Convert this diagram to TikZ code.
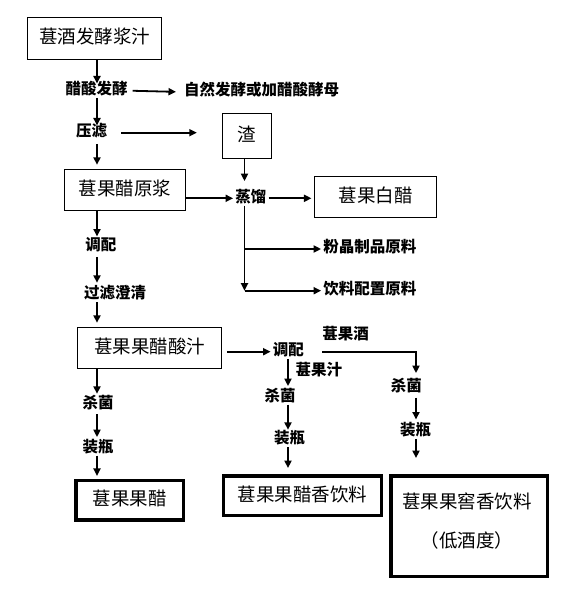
\documentclass[tikz,border=0pt]{standalone}
\usepackage{fontspec}
\setmainfont{Noto Sans CJK SC}
\usetikzlibrary{arrows.meta}
\begin{document}
\begin{tikzpicture}[x=1pt,y=-1pt,
  arr/.style={line width=1.8pt,-{Triangle[length=7.5pt,width=7pt]}},
  lab/.style={font=\fontsize{15.5}{18}\selectfont\bfseries, inner sep=2pt, text height=0.88em, text depth=0.12em},
  box/.style={draw, line width=1pt, font=\fontsize{18.5}{21}\selectfont, inner sep=0pt, text height=1.2em, text depth=0.12em},
  tbox/.style={box, line width=3.5pt}]
\useasboundingbox (0,0) rectangle (587,596);
\coordinate (colL) at (97,0);
\coordinate (colZ) at (244.5,0);
\coordinate (colM) at (288,0);
\coordinate (colR) at (416,0);

\node[box, minimum width=134.4pt, minimum height=42pt] (b1) at (94.5,38.3) {葚酒发酵浆汁};
\node[lab] (cs) at (96.5,90.7) {醋酸发酵};
\node[lab] (zr) at (261.7,92) {自然发酵或加醋酸酵母};
\node[lab] (yl) at (91.5,132.7) {压滤};
\node[box, minimum width=49.4pt, minimum height=45pt] (zha) at (247,135.8) {渣};
\node[box, minimum width=121.4pt, minimum height=41.4pt] (yj) at (125,190) {葚果醋原浆};
\node[lab] (zl) at (250.8,198.3) {蒸馏};
\node[box, minimum width=121.7pt, minimum height=41pt] (bc) at (375.8,196.8) {葚果白醋};
\node[lab] (fj) at (369.8,249) {粉晶制品原料};
\node[lab] (yp) at (369.8,290.7) {饮料配置原料};
\node[lab] (tp1) at (100.8,246.7) {调配};
\node[lab] (gl) at (115,295) {过滤澄清};
\node[box, minimum width=144.4pt, minimum height=41pt] (sz) at (149.5,347.8) {葚果果醋酸汁};
\node[lab] (sj1) at (98,405) {杀菌};
\node[lab] (zp1) at (98,448.3) {装瓶};
\node[tbox, minimum width=107.5pt, minimum height=39.2pt] (gc) at (129.5,500.3) {葚果果醋};
\node[lab] (tp2) at (288.3,351.7) {调配};
\node[lab] (gz) at (318.8,371.7) {葚果汁};
\node[lab] (gj) at (345.5,336) {葚果酒};
\node[lab] (sj2) at (280,397.3) {杀菌};
\node[lab] (zp2) at (289.7,440) {装瓶};
\node[tbox, minimum width=158pt, minimum height=39.8pt] (cx) at (302.5,495.7) {葚果果醋香饮料};
\node[lab] (sj3) at (406.3,387.3) {杀菌};
\node[lab] (zp3) at (415.5,431.7) {装瓶};
\node[tbox, minimum width=156.5pt, minimum height=100.8pt] (jx) at (469,526.2) {};
\node[font=\fontsize{18.5}{38.3}\selectfont, align=center, inner sep=0pt] (jxt) at (467,520.9) {葚果果窖香饮料\\（低酒度）};

% left column
\draw[arr] (b1.south -| colL) -- (cs.north -| colL);
\draw[arr] (cs.south -| colL) -- (yl.north -| colL);
\draw[arr, shorten <=4pt, shorten >=4pt] (yl.south -| colL) -- (yj.north -| colL);
\draw[arr, shorten <=3pt, shorten >=6pt] (cs.east) -- (zr.west);
\draw[arr, shorten <=12pt, shorten >=25pt] (yl.east) -- (zha.west |- yl.east);
\draw[arr, shorten >=10pt] (zha.south -| colZ) -- (zl.north -| colZ);
\draw[arr] (yj.east |- zl.west) -- (zl.west);
\draw[arr, shorten >=3pt] (zl.east) -- (bc.west |- zl.east);
\draw[arr] (zl.south -| colZ) -- (yp.west -| colZ);
\draw[arr] (yp.west -| colZ) -- (yp.west);
\draw[arr] (fj.west -| colZ) -- (fj.west);
\draw[arr, shorten >=3pt] (yj.south -| colL) -- (tp1.north -| colL);
\draw[arr, shorten <=3pt, shorten >=5pt] (tp1.south -| colL) -- (gl.north -| colL);
\draw[arr, shorten >=4pt] (gl.south -| colL) -- (sz.north -| colL);
\draw[arr, shorten >=4pt] (sz.south -| colL) -- (sj1.north -| colL);
\draw[arr, shorten <=2pt, shorten >=4pt] (sj1.south -| colL) -- (zp1.north -| colL);
\draw[arr, shorten >=3pt] (zp1.south -| colL) -- (gc.north -| colL);
% middle column
\draw[arr, shorten <=5pt] (sz.east |- tp2.west) -- (tp2.west);
\draw[arr, shorten >=4pt] (tp2.south -| colM) -- (sj2.north -| colM);
\draw[arr, shorten >=3pt] (sj2.south -| colM) -- (zp2.north -| colM);
\draw[arr, shorten >=6pt] (zp2.south -| colM) -- (cx.north -| colM);
% right column
\draw[arr, shorten <=16pt, shorten >=7pt] (tp2.east) -| (sj3.north -| colR);
\draw[arr, shorten <=3pt, shorten >=5pt] (sj3.south -| colR) -- (zp3.north -| colR);
\draw[arr, shorten >=16pt] (zp3.south -| colR) -- (jx.north -| colR);
\end{tikzpicture}
\end{document}
